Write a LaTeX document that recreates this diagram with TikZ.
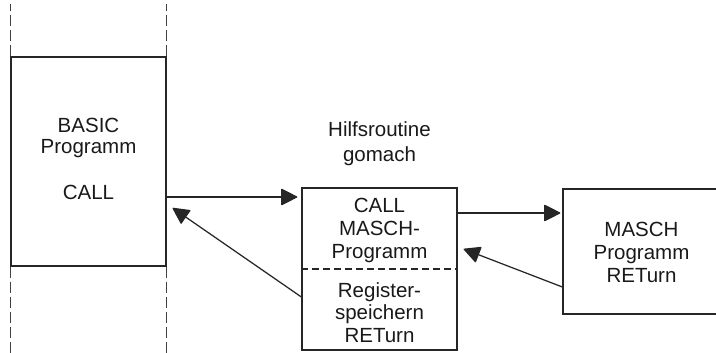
\documentclass[tikz,border=0pt]{standalone}
\usepackage{fontspec}
\setmainfont{Liberation Sans}
\usetikzlibrary{arrows.meta}
\begin{document}
\begin{tikzpicture}[x=1pt,y=-1pt,
  line/.style={draw=black!85,line width=1.25pt},
  box/.style={line,rectangle,inner sep=0pt},
  lbl/.style={inner sep=0pt,anchor=base,text=black!90,
    font=\fontsize{20.5}{24}\selectfont},
  arr/.style={line,-{Triangle[length=17pt,width=17pt,round]}},
  guide/.style={draw=black!75,line width=1pt,dash pattern=on 11pt off 4pt}]
\clip (0,0) rectangle (716,353);
% memory column of the BASIC program
\node[box,minimum width=155pt,minimum height=209pt] (basic) at (88.5,161.5) {};
\draw[guide] (basic.north west) -- ++(0,-52);
\draw[guide] (basic.north east) -- ++(0,-52);
\draw[guide] (basic.south west) -- ++(0,88);
\draw[guide] (basic.south east) -- ++(0,88);
\node[lbl] (b1) at (88.5,133) {BASIC};
\node[lbl] (b2) at (88.5,153.5) {Programm};
\node[lbl] (b3) at (88.5,200) {CALL};
% helper routine
\node[lbl] (h1) at (379.5,137) {Hilfsroutine};
\node[lbl] (h2) at (379.5,161) {gomach};
\node[box,minimum width=155pt,minimum height=162pt] (mid) at (379.5,269) {};
\draw[line,dash pattern=on 7pt off 4pt] (mid.west) -- (mid.east);
\node[lbl] (m1) at (379.5,212) {CALL};
\node[lbl] (m2) at (379.5,235) {MASCH-};
\node[lbl] (m3) at (379.5,258) {Programm};
\node[lbl] (m4) at (379.5,297) {Register-};
\node[lbl] (m5) at (379.5,319.5) {speichern};
\node[lbl] (m6) at (379.5,342) {RETurn};
% machine program
\node[box,minimum width=162pt,minimum height=125pt] (masch) at (644,251.5) {};
\node[lbl] (r1) at (641.5,236) {MASCH};
\node[lbl] (r2) at (641.5,259) {Programm};
\node[lbl] (r3) at (641.5,282) {RETurn};
% calls and returns
\draw[arr,shorten >=4pt] ([yshift=-35.5pt]basic.east) -- ([yshift=72pt]mid.west);
\draw[arr] ([yshift=-28pt]mid.west) -- ([xshift=6pt,yshift=-46.5pt]basic.east);
\draw[arr,shorten >=2pt] ([yshift=56pt]mid.east) -- ([yshift=38.5pt]masch.west);
\draw[arr] ([yshift=-35.5pt]masch.west) -- ([xshift=6pt,yshift=20pt]mid.east);
\end{tikzpicture}
\end{document}
